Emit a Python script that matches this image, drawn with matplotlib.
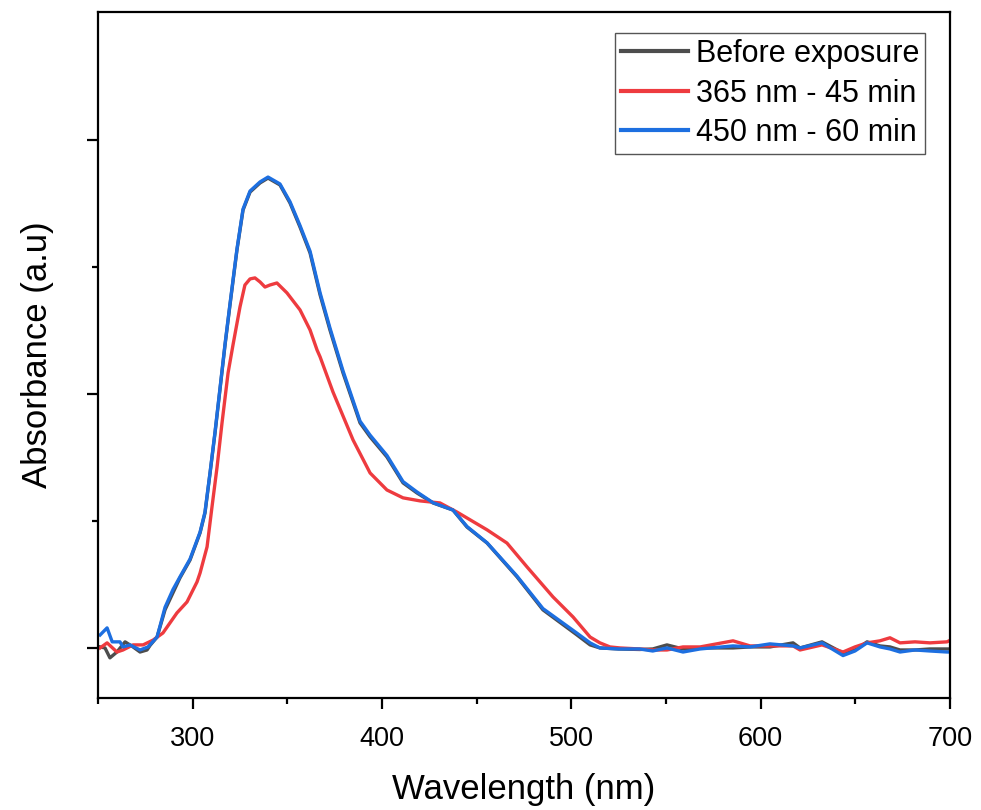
import matplotlib
matplotlib.use("Agg")
import matplotlib.pyplot as plt
from matplotlib.ticker import MultipleLocator, FixedLocator, NullFormatter

# ---------------- data ----------------
wl_before = [251.1, 253.7, 256.3, 260.0, 264.3, 268.5, 272.2, 275.9, 277.5, 281.2,
             285.4, 289.6, 293.3, 298.6, 303.9, 306.5, 309.2, 311.8, 314.4, 317.1,
             319.7, 323.4, 326.6, 330.3, 335.6, 339.8, 346.1, 351.4, 356.7, 362.0,
             367.3, 372.5, 379.4, 388.4, 393.7, 402.6, 411.1, 418.5, 426.9, 437.5,
             444.9, 455.5, 471.3, 485.0, 503.0, 509.9, 515.1, 525.0, 536.0, 543.0,
             550.5, 559.0, 568.0, 585.4, 594.4, 604.9, 617.1, 620.8, 632.4, 643.5,
             649.8, 656.2, 663.0, 668.3, 673.6, 681.5, 689.4, 698.4, 700.0]
abs_before = [0.004, 0.000, -0.039, -0.016, 0.024, 0.004, -0.016, -0.008, 0.010, 0.043,
              0.150, 0.217, 0.276, 0.346, 0.453, 0.531, 0.689, 0.846, 1.016, 1.193,
              1.350, 1.567, 1.724, 1.795, 1.831, 1.850, 1.823, 1.752, 1.657, 1.555,
              1.390, 1.252, 1.083, 0.886, 0.831, 0.752, 0.650, 0.610, 0.571, 0.543,
              0.476, 0.413, 0.280, 0.150, 0.051, 0.012, 0.000, -0.004, -0.006, -0.004,
              0.012, -0.004, 0.000, 0.000, 0.004, 0.004, 0.020, 0.000, 0.024, -0.020,
              -0.008, 0.024, 0.008, 0.004, -0.008, -0.008, -0.004, -0.004, -0.004]

wl_365 = [251.1, 254.8, 260.0, 263.2, 268.5, 273.8, 279.1, 284.3, 291.7, 297.0,
          302.3, 303.9, 307.6, 310.2, 312.9, 315.5, 318.7, 321.3, 325.0, 327.6,
          330.3, 332.9, 335.6, 338.2, 340.8, 344.5, 349.8, 356.7, 362.0, 365.7,
          367.3, 374.1, 384.7, 393.7, 402.6, 411.1, 420.1, 430.6, 439.6, 455.5,
          466.0, 476.6, 490.3, 500.9, 509.9, 515.1, 520.4, 525.7, 536.0, 543.0,
          550.5, 559.0, 568.0, 585.4, 594.4, 604.9, 617.1, 620.8, 632.4, 643.5,
          649.8, 656.2, 663.0, 668.3, 673.6, 681.5, 689.4, 698.4, 700.0]
abs_365 = [0.000, 0.020, -0.016, -0.008, 0.012, 0.012, 0.031, 0.059, 0.138, 0.181,
           0.260, 0.295, 0.398, 0.555, 0.713, 0.886, 1.083, 1.193, 1.343, 1.429,
           1.453, 1.457, 1.441, 1.421, 1.429, 1.437, 1.398, 1.331, 1.252, 1.173,
           1.146, 1.008, 0.819, 0.689, 0.622, 0.591, 0.579, 0.571, 0.535, 0.465,
           0.413, 0.319, 0.201, 0.122, 0.043, 0.020, 0.004, 0.000, -0.004, -0.008,
           -0.008, 0.004, 0.004, 0.028, 0.008, 0.008, 0.008, -0.008, 0.012, -0.016,
           0.004, 0.020, 0.028, 0.040, 0.020, 0.024, 0.020, 0.024, 0.030]

wl_450 = [251.1, 254.8, 257.5, 261.6, 263.2, 266.9, 272.2, 276.4, 281.2, 285.4,
          289.6, 293.3, 298.6, 303.9, 306.5, 309.2, 311.8, 314.4, 317.1, 319.7,
          323.4, 326.6, 330.3, 335.6, 339.8, 346.1, 351.4, 356.7, 362.0, 367.3,
          372.5, 379.4, 388.4, 393.7, 402.6, 411.1, 418.5, 426.9, 437.5, 444.9,
          455.5, 471.3, 485.0, 503.0, 509.9, 515.1, 525.0, 536.0, 543.0, 550.5,
          559.0, 568.0, 585.4, 594.4, 604.9, 617.1, 620.8, 632.4, 643.5, 649.8,
          656.2, 663.0, 668.3, 673.6, 681.5, 689.4, 698.4, 700.0]
abs_450 = [0.051, 0.079, 0.024, 0.024, 0.004, 0.012, -0.008, 0.004, 0.043, 0.160,
           0.230, 0.280, 0.350, 0.456, 0.535, 0.692, 0.850, 1.020, 1.197, 1.354,
           1.571, 1.728, 1.799, 1.835, 1.854, 1.827, 1.757, 1.663, 1.562, 1.398,
           1.260, 1.091, 0.893, 0.838, 0.758, 0.655, 0.614, 0.572, 0.543, 0.478,
           0.414, 0.283, 0.155, 0.058, 0.020, 0.000, -0.004, -0.004, -0.012, 0.000,
           -0.016, -0.004, 0.008, 0.004, 0.016, 0.008, 0.000, 0.020, -0.030, -0.012,
           0.020, 0.004, -0.004, -0.016, -0.008, -0.012, -0.016, -0.016]

labels = ["Before exposure", "365 nm - 45 min", "450 nm - 60 min"]
colors = ["#4d4d4d", "#ee3b3f", "#1d6fe0"]

xticks = [300, 400, 500, 600, 700]
yticks_major = [0, 1, 2]
yticks_minor = [0.5, 1.5]

# ---------------- plot ----------------
plt.rcParams['font.family'] = ['Liberation Sans', 'DejaVu Sans']

fig = plt.figure(figsize=(9.81, 8.10), dpi=100)
ax = fig.add_axes([0.0999, 0.1383, 0.8685, 0.8469])

ax.plot(wl_before, abs_before, color=colors[0], lw=2.4, label=labels[0])
ax.plot(wl_365, abs_365, color=colors[1], lw=2.4, label=labels[1])
ax.plot(wl_450, abs_450, color=colors[2], lw=2.4, label=labels[2])

ax.set_xlim(250, 700)
ax.set_ylim(-0.197, 2.504)
ax.set_xticks(xticks)
ax.xaxis.set_minor_locator(MultipleLocator(50))
ax.yaxis.set_major_locator(FixedLocator(yticks_major))
ax.yaxis.set_minor_locator(FixedLocator(yticks_minor))
ax.yaxis.set_major_formatter(NullFormatter())

for s in ax.spines.values():
    s.set_linewidth(1.6)
ax.tick_params(which='major', direction='out', length=8, width=1.6, labelsize=19.5, pad=12)
ax.tick_params(which='minor', direction='out', length=4, width=1.6)

ax.set_xlabel("Wavelength (nm)", fontsize=25, labelpad=15)
ax.set_ylabel("Absorbance (a.u)", fontsize=25, labelpad=12)

leg = ax.legend(loc='upper right', bbox_to_anchor=(0.9707, 0.9694), fontsize=22,
                frameon=True, fancybox=False, edgecolor='#555555', framealpha=1,
                borderpad=0.2, labelspacing=0.31, handlelength=2.2, handletextpad=0.25,
                borderaxespad=0)
leg.get_frame().set_linewidth(1.0)
for line in leg.get_lines():
    line.set_linewidth(3)

fig.savefig("out.png", dpi=100)
